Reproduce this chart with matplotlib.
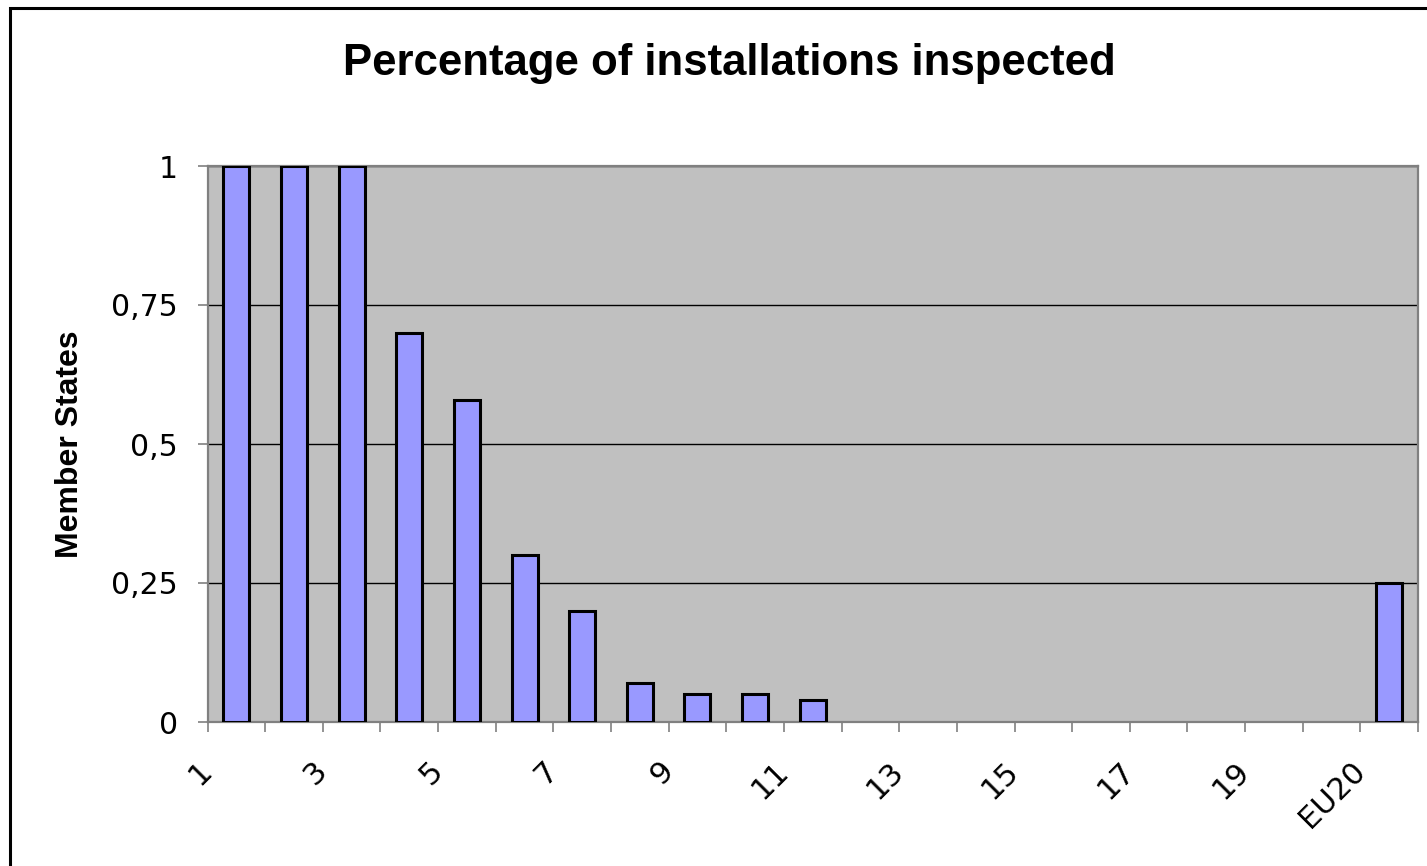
import matplotlib
matplotlib.use("Agg")
import matplotlib.pyplot as plt
from matplotlib.patches import Rectangle

categories = [str(i) for i in range(1, 21)] + ["EU20"]
values = [1.0, 1.0, 1.0, 0.70, 0.58, 0.30, 0.20, 0.07, 0.05, 0.05, 0.04,
          0, 0, 0, 0, 0, 0, 0, 0, 0, 0.25]
y_ticks = [0, 0.25, 0.5, 0.75, 1]
y_tick_labels = ["0", "0,25", "0,5", "0,75", "1"]
title = "Percentage of installations inspected"
y_label = "Member States"

W, H = 1427, 866
fig = plt.figure(figsize=(W / 100, H / 100), dpi=100)
fig.patch.set_facecolor("white")

L, R, T, B = 207.5, 1418, 166, 722
ax = fig.add_axes([L / W, 1 - B / H, (R - L) / W, (B - T) / H])
ax.set_facecolor("#C0C0C0")

n = len(categories)
xpos = [i + 0.5 for i in range(n)]
bars = ax.bar(xpos, values, width=0.45, color="#9999FF", edgecolor="black",
              linewidth=2.2, zorder=3)
for b, v in zip(bars, values):
    if v == 0:
        b.set_visible(False)

ax.set_xlim(0, n)
ax.set_ylim(0, 1)

# y axis
ax.set_yticks(y_ticks)
ax.set_yticklabels(y_tick_labels, fontfamily="DejaVu Sans", fontsize=21.5)
ax.tick_params(axis="y", direction="out", length=7.5, width=1.2,
               color="#808080", pad=14, labelcolor="black")
ax.yaxis.grid(True, color="black", linewidth=1.0, zorder=1)
ax.set_axisbelow(True)

# x axis: tick marks at category boundaries, labels every other category
ax.set_xticks(range(n + 1))
xlabels = [categories[i] if (i < n and i % 2 == 0) else "" for i in range(n + 1)]
ax.set_xticklabels(xlabels, fontfamily="DejaVu Sans", fontsize=22,
                   rotation=45, ha="right", va="center",
                   rotation_mode="anchor")
ax.tick_params(axis="x", direction="out", length=7, width=1.2,
               color="#808080", pad=25, labelcolor="black")
ax.xaxis.grid(False)

for s in ax.spines.values():
    s.set_color("#808080")
    s.set_linewidth(1.6)

ax.set_ylabel(y_label, fontfamily="Liberation Sans", fontweight="bold",
              fontsize=23)
ax.yaxis.set_label_coords((85 - L) / (R - L), 0.5)

fig.text(729 / W, 1 - 63 / H, title, ha="center", va="center",
         fontfamily="Liberation Sans", fontweight="bold", fontsize=31.5)

# figure border (extends past right and bottom edge)
fig.patches.append(Rectangle((10 / W, -0.1), 1.2, (H - 8) / H + 0.1,
                             transform=fig.transFigure, fill=False,
                             edgecolor="black", linewidth=2.2))

fig.savefig("out.png", dpi=100)
